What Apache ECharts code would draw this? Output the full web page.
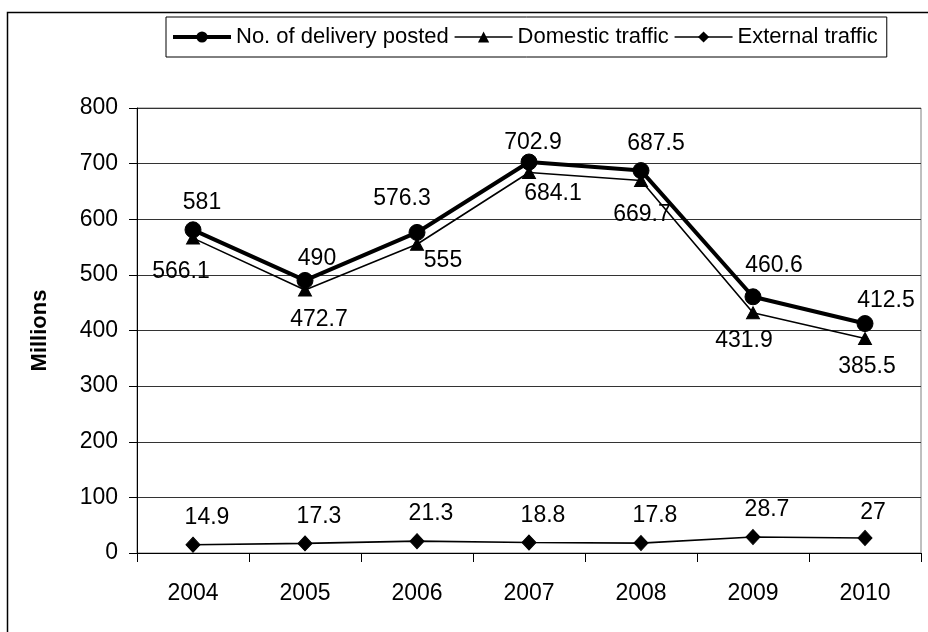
<!DOCTYPE html>
<html>
<head>
<meta charset="utf-8">
<script src="https://cdn.jsdelivr.net/npm/echarts@6/dist/echarts.min.js"></script>
<style>
html,body{margin:0;padding:0;background:#fff;}
#chart{width:928px;height:632px;}
</style>
</head>
<body>
<div id="chart"></div>
<script>
// ---- data ----
const years = ['2004','2005','2006','2007','2008','2009','2010'];
const delivery = [581, 490, 576.3, 702.9, 687.5, 460.6, 412.5];
const domestic = [566.1, 472.7, 555, 684.1, 669.7, 431.9, 385.5];
const external = [14.9, 17.3, 21.3, 18.8, 17.8, 28.7, 27];
const seriesNames = ['No. of delivery posted', 'Domestic traffic', 'External traffic'];
const yTicks = {min: 0, max: 800, interval: 100};

// ---- label placement (style, not data) ----
const deliveryLabelOffsets = [[9,-27],[12,-22],[-15,-34],[4,-19],[15,-27],[21,-31],[21,-23]];
const domesticLabelOffsets = [[-12,34],[14,30],[26,16],[24,21],[1,34],[-9,28],[2,28]];
const externalLabelOffsets = [[14,-27],[14,-27],[14,-27],[14,-27],[14,-27],[14,-27],[8,-25]];
const lineWidths = [4, 1.6, 1.6];

const FONT = '"Liberation Sans", Arial, sans-serif';

function withLabels(values, offsets) {
  return values.map((v, i) => ({value: v, label: {offset: offsets[i]}}));
}

const labelBase = {
  show: true, position: 'inside', color: '#000', fontSize: 23, fontFamily: FONT
};

const chart = echarts.init(document.getElementById('chart'), null, {renderer: 'canvas'});
chart.setOption({
  animation: false,
  backgroundColor: '#fff',
  textStyle: {fontFamily: FONT, color: '#000'},
  graphic: [{
    type: 'rect', silent: true, z: -1,
    shape: {x: 7.5, y: 12.5, width: 940, height: 640},
    style: {fill: 'none', stroke: '#000', lineWidth: 1.5}
  }],
  legend: {
    left: 166, top: 17,
    data: seriesNames.map((n, i) => ({name: n, lineStyle: {width: lineWidths[i], color: '#000'}})),
    itemWidth: 58, itemHeight: 14, itemGap: 5,
    padding: [9, 9, 9, 5],
    borderColor: '#000', borderWidth: 1, backgroundColor: '#fff',
    textStyle: {fontSize: 22, fontFamily: FONT, color: '#000'}
  },
  grid: {
    left: 137, right: 7, top: 108, bottom: 79,
    show: true, borderColor: '#808080', borderWidth: 1, backgroundColor: 'transparent'
  },
  xAxis: {
    type: 'category', data: years, boundaryGap: true,
    axisLine: {lineStyle: {color: '#000', width: 1}},
    axisTick: {show: true, interval: 0, length: 9, lineStyle: {color: '#000'}},
    axisLabel: {fontSize: 23, color: '#000', margin: 29, fontFamily: FONT}
  },
  yAxis: {
    type: 'value', min: yTicks.min, max: yTicks.max, interval: yTicks.interval,
    name: 'Millions', nameLocation: 'middle', nameRotate: 90, nameGap: 86,
    nameTextStyle: {fontSize: 22, fontWeight: 'bold', color: '#000', fontFamily: FONT},
    axisLine: {show: true, lineStyle: {color: '#000', width: 1}},
    axisTick: {show: true, length: 8, lineStyle: {color: '#000'}},
    axisLabel: {fontSize: 23, color: '#000', margin: 19, fontFamily: FONT},
    splitLine: {show: true, lineStyle: {color: '#333', width: 1}}
  },
  series: [
    {
      name: seriesNames[2], type: 'line', z: 3,
      data: withLabels(external, externalLabelOffsets),
      symbol: 'diamond', symbolSize: [14, 15],
      lineStyle: {color: '#000', width: lineWidths[2]},
      itemStyle: {color: '#000', borderColor: '#000'},
      label: labelBase
    },
    {
      name: seriesNames[1], type: 'line', z: 4,
      data: withLabels(domestic, domesticLabelOffsets),
      symbol: 'triangle', symbolSize: [13, 12],
      lineStyle: {color: '#000', width: lineWidths[1]},
      itemStyle: {color: '#000', borderColor: '#000'},
      label: labelBase
    },
    {
      name: seriesNames[0], type: 'line', z: 5,
      data: withLabels(delivery, deliveryLabelOffsets),
      symbol: 'circle', symbolSize: 16,
      lineStyle: {color: '#000', width: lineWidths[0]},
      itemStyle: {color: '#000', borderColor: '#000'},
      label: labelBase
    }
  ]
});
</script>
</body>
</html>
